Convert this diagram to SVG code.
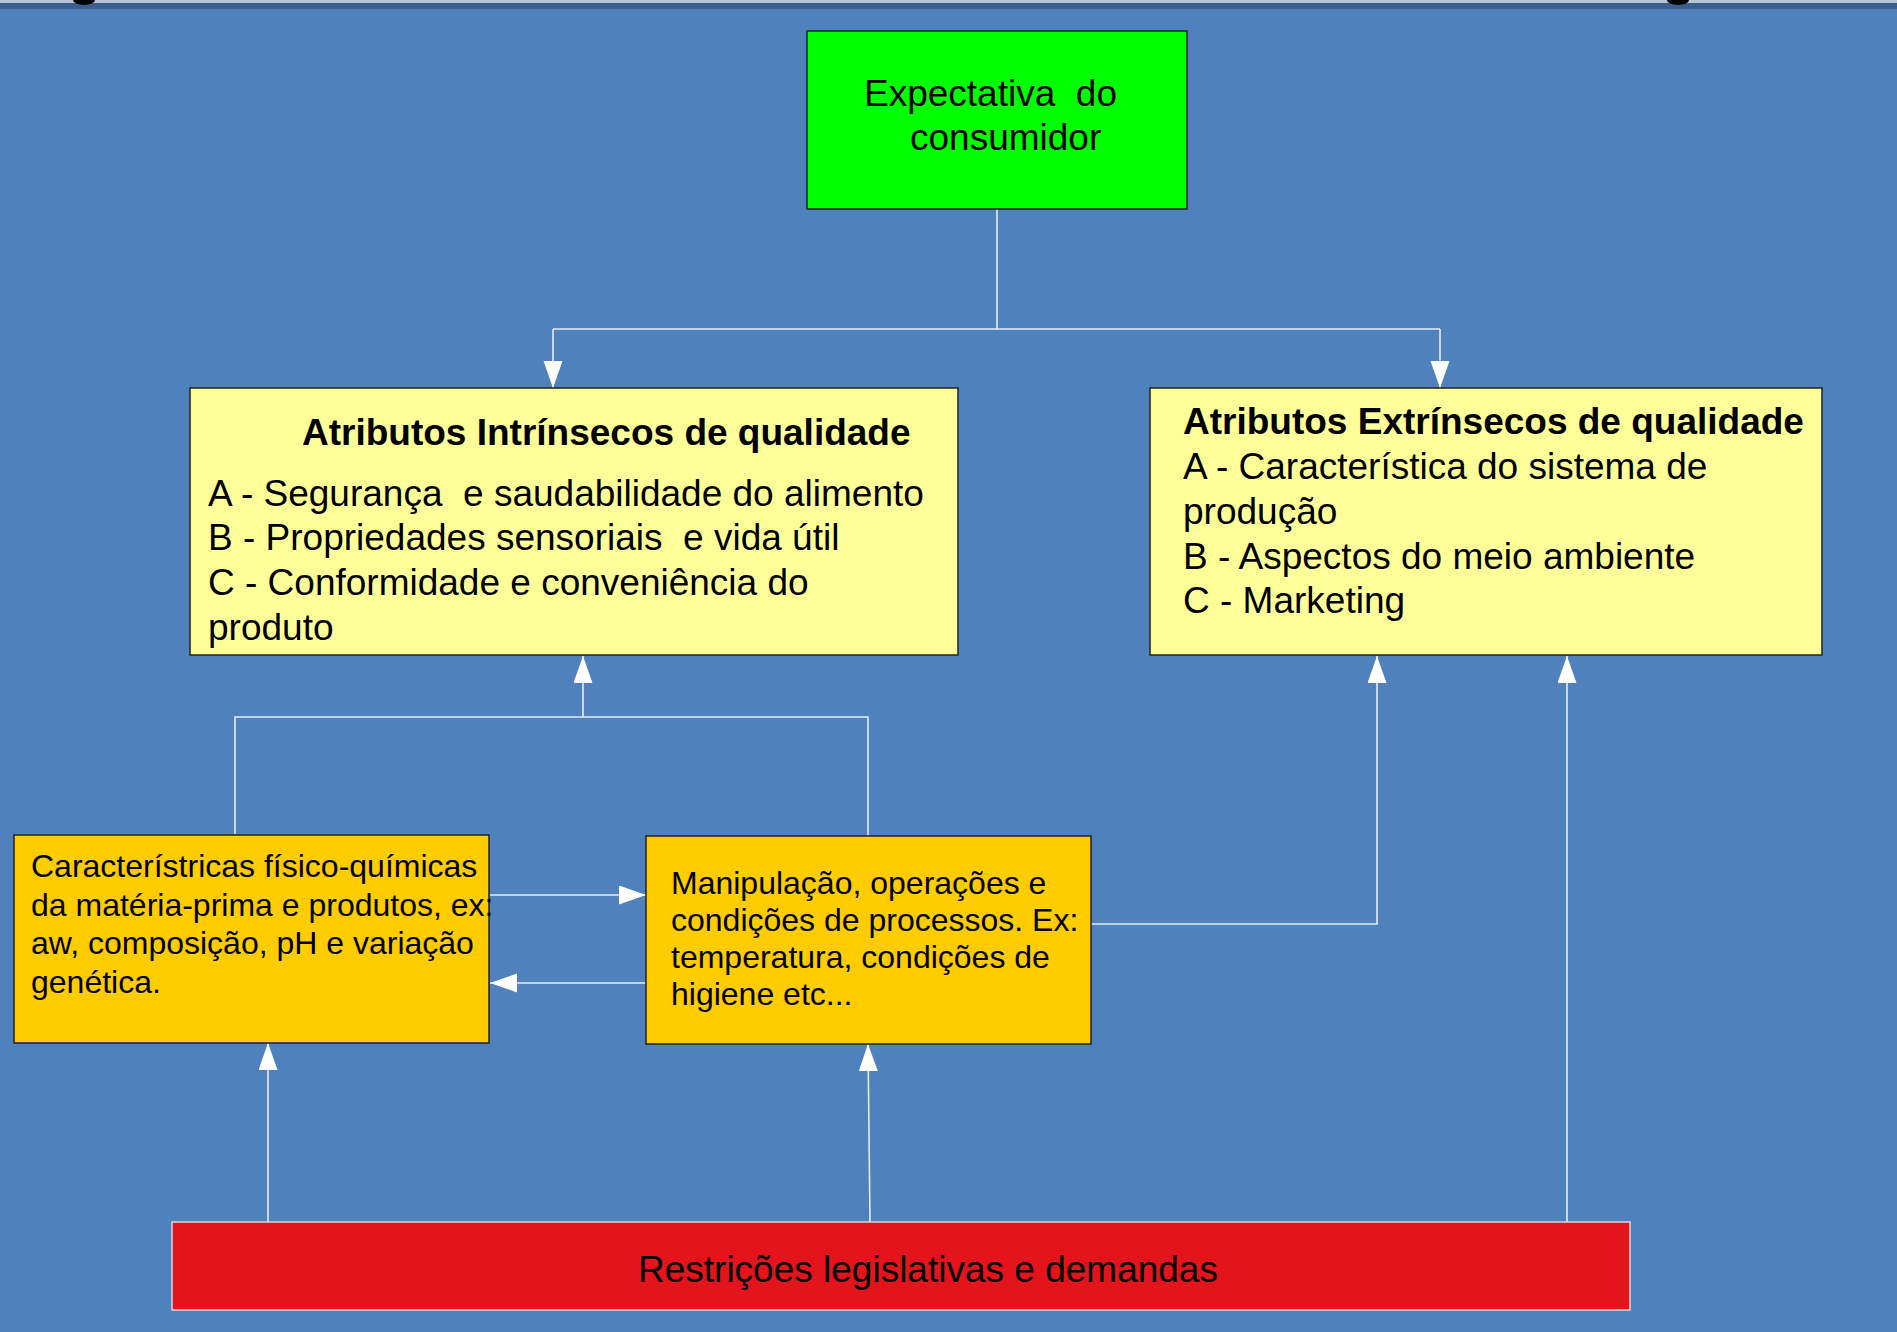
<svg xmlns="http://www.w3.org/2000/svg" width="1897" height="1332" viewBox="0 0 1897 1332">
<style>
text{font-family:"Liberation Sans",Arial,sans-serif;fill:#000;white-space:pre}
.t37{font-size:37px}
.t32{font-size:32px}
.b{font-weight:bold}
.box{stroke:#222;stroke-width:1.5}
.con{fill:none;stroke:#E6ECF4;stroke-width:1.6}
</style>
<defs>
<marker id="ah" markerUnits="userSpaceOnUse" markerWidth="28" markerHeight="20" refX="27" refY="9.5" orient="auto">
<path d="M0,0 L27,9.5 L0,19 z" fill="#FFFFFF"/>
</marker>
</defs>
<rect x="0" y="0" width="1897" height="1332" fill="#4F81BD"/>
<rect x="0" y="0" width="1897" height="3" fill="#B8C4D4"/>
<rect x="0" y="3" width="1897" height="6" fill="#3A5F8C"/>
<ellipse cx="84" cy="0" rx="11" ry="5" fill="#000"/>
<ellipse cx="1678" cy="0" rx="11" ry="5" fill="#000"/>

<g id="connectors">
<path class="con" d="M997,209 V329"/>
<path class="con" d="M553,329 H1440"/>
<path class="con" d="M553,329 V388" marker-end="url(#ah)"/>
<path class="con" d="M1440,329 V388" marker-end="url(#ah)"/>
<path class="con" d="M235,834 V717 H868 V836"/>
<path class="con" d="M583,717 V656" marker-end="url(#ah)"/>
<path class="con" d="M490,895 H646" marker-end="url(#ah)"/>
<path class="con" d="M646,983 H490" marker-end="url(#ah)"/>
<path class="con" d="M1091,924 H1377 V656" marker-end="url(#ah)"/>
<path class="con" d="M268,1222 V1043" marker-end="url(#ah)"/>
<path class="con" d="M870,1222 L868,1044" marker-end="url(#ah)"/>
<path class="con" d="M1567,1222 V656" marker-end="url(#ah)"/>
</g>

<g id="expectativa">
<rect class="box" x="807" y="31" width="380" height="178" fill="#00FF00"/>
<text class="t37" x="864" y="106">Expectativa  do</text>
<text class="t37" x="910" y="150">consumidor</text>
</g>

<g id="intrinsecos">
<rect class="box" x="190" y="388" width="768" height="267" fill="#FFFF99"/>
<text class="t37 b" x="302" y="445">Atributos Intrínsecos de qualidade</text>
<text class="t37" x="208" y="506">A - Segurança  e saudabilidade do alimento</text>
<text class="t37" x="208" y="550">B - Propriedades sensoriais  e vida útil</text>
<text class="t37" x="208" y="595">C - Conformidade e conveniência do</text>
<text class="t37" x="208" y="640">produto</text>
</g>

<g id="extrinsecos">
<rect class="box" x="1150" y="388" width="672" height="267" fill="#FFFF99"/>
<text class="t37 b" x="1183" y="434">Atributos Extrínsecos de qualidade</text>
<text class="t37" x="1183" y="479">A - Característica do sistema de</text>
<text class="t37" x="1183" y="524">produção</text>
<text class="t37" x="1183" y="569">B - Aspectos do meio ambiente</text>
<text class="t37" x="1183" y="613">C - Marketing</text>
</g>

<g id="fisico-quimicas">
<rect class="box" x="14" y="835" width="475" height="208" fill="#FFCC00"/>
<text class="t32" x="31" y="877">Característricas físico-químicas</text>
<text class="t32" x="31" y="916">da matéria-prima e produtos, ex:</text>
<text class="t32" x="31" y="954">aw, composição, pH e variação</text>
<text class="t32" x="31" y="993">genética.</text>
</g>

<g id="manipulacao">
<rect class="box" x="646" y="836" width="445" height="208" fill="#FFCC00"/>
<text class="t32" x="671" y="894">Manipulação, operações e</text>
<text class="t32" x="671" y="931">condições de processos. Ex:</text>
<text class="t32" x="671" y="968">temperatura, condições de</text>
<text class="t32" x="671" y="1005">higiene etc...</text>
</g>

<g id="restricoes">
<rect x="172" y="1222" width="1458" height="88" fill="#E3141C" stroke="#D8D8D8" stroke-width="1.5"/>
<text class="t37" x="638" y="1282">Restrições legislativas e demandas</text>
</g>
</svg>
